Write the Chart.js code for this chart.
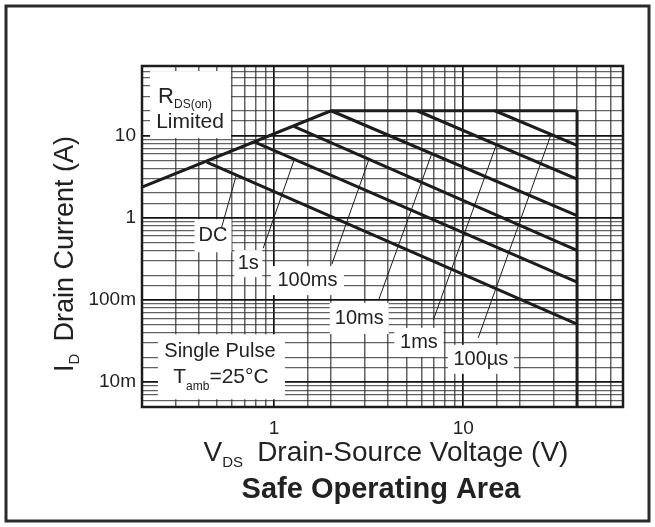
<!DOCTYPE html>
<html>
<head>
<meta charset="utf-8">
<script src="https://cdn.jsdelivr.net/npm/chart.js@4.4.1/dist/chart.umd.min.js"></script>
<style>
  html, body { margin: 0; padding: 0; background: #fff; }
  #wrap { width: 655px; height: 527px; position: relative; }
</style>
</head>
<body>
<div id="wrap"><canvas id="soaChart"></canvas></div>
<script>
// axis ranges
const voltRange = [0.2, 70];
const currentRange = [0.005, 70];

// labelled ticks
const voltTickValues = [1, 10];
const voltTickLabels = ['1', '10'];
const currentTickValues = [10, 1, 0.1, 0.01];
const currentTickLabels = ['10', '1', '100m', '10m'];

// outline of the safe operating area
const rdsLimitV = [0.2, 2.0];
const rdsLimitI = [2.35, 20];
const currentCapV = [2.0, 40];
const currentCapI = [20, 20];
const voltCapV = [40, 40];
const voltCapI = [20, 0.005];

// pulse limit lines, from the outline down to 40 V
const pulseNames = ['100µs', '1ms', '10ms', '100ms', '1s', 'DC'];
const pulseStartV = [14.7, 5.7, 2.0, 1.27, 0.79, 0.44];
const pulseStartI = [20, 20, 20, 12.9, 8.3, 4.75];
const pulseEndV = [40, 40, 40, 40, 40, 40];
const pulseEndI = [7.6, 2.95, 1.06, 0.40, 0.165, 0.051];

// where the pulse names sit, and their leader lines (V, A)
const labelV = [12.4, 5.83, 2.82, 1.5, 0.73, 0.475];
const labelI = [0.019, 0.0305, 0.0597, 0.172, 0.277, 0.605];
const leaderFromV = [12.0, 6.95, 3.57, 2.02, 0.875, 0.526];
const leaderFromI = [0.0346, 0.0573, 0.1, 0.273, 0.427, 0.746];
const leaderToV = [29.0, 14.9, 6.78, 3.16, 1.274, 0.631];
const leaderToI = [10.0, 7.5, 5.8, 5.0, 5.0, 3.3];

// note boxes (V, A of box centre)
const rdsNote = [0.359, 24.1];
const pulseNote = [0.523, 0.01563];

// white box size round each pulse name, px
const labelBox = [[66, 29], [49, 29], [59, 31], [73, 29], [28, 27], [37, 33]];

const FONT = '"Liberation Sans", Arial, Helvetica, sans-serif';
const INK = '#1c1c1c';

function pts(xs, ys) {
    return xs.map((x, i) => ({ x: x, y: ys[i] }));
}

function isDecade(v) {
    const l = Math.log10(v);
    return Math.abs(l - Math.round(l)) < 1e-6;
}

function rich(ctx, parts, x, y) {
    // parts: [text, size, dy, bold, gapAfter]
    let total = 0;
    parts.forEach(p => {
        ctx.font = (p[3] ? 'bold ' : '') + p[1] + 'px ' + FONT;
        p.w = ctx.measureText(p[0]).width + (p[4] || 0);
        total += p.w;
    });
    let cx = x - total / 2;
    ctx.textAlign = 'left';
    ctx.textBaseline = 'middle';
    parts.forEach(p => {
        ctx.font = (p[3] ? 'bold ' : '') + p[1] + 'px ' + FONT;
        ctx.fillText(p[0], cx, y + (p[2] || 0));
        cx += p.w;
    });
}

const notesPlugin = {
    id: 'notes',
    beforeDatasetsDraw(chart) {
        const ctx = chart.ctx, xs = chart.scales.x, ys = chart.scales.y, a = chart.chartArea;
        ctx.save();
        ctx.beginPath();
        ctx.rect(a.left, a.top, a.right - a.left, a.bottom - a.top);
        ctx.clip();
        ctx.fillStyle = '#fff';

        // RDS(on) note
        const rx = xs.getPixelForValue(rdsNote[0]), ry = ys.getPixelForValue(rdsNote[1]);
        ctx.fillRect(rx - 40, ry - 33, 81, 67);
        // single pulse note
        const sx = xs.getPixelForValue(pulseNote[0]), sy = ys.getPixelForValue(pulseNote[1]);
        ctx.fillRect(sx - 63, sy - 32, 127, 65);
        // pulse name boxes
        pulseNames.forEach((n, i) => {
            const px = xs.getPixelForValue(labelV[i]), py = ys.getPixelForValue(labelI[i]);
            const b = labelBox[i];
            ctx.fillRect(px - b[0] / 2, py - b[1] / 2, b[0], b[1]);
        });

        // leaders
        ctx.strokeStyle = INK;
        ctx.lineWidth = 1;
        pulseNames.forEach((n, i) => {
            ctx.beginPath();
            ctx.moveTo(xs.getPixelForValue(leaderFromV[i]), ys.getPixelForValue(leaderFromI[i]));
            ctx.lineTo(xs.getPixelForValue(leaderToV[i]), ys.getPixelForValue(leaderToI[i]));
            ctx.stroke();
        });

        // texts
        ctx.fillStyle = '#222';
        pulseNames.forEach((n, i) => {
            rich(ctx, [[n, 20]], xs.getPixelForValue(labelV[i]), ys.getPixelForValue(labelI[i]));
        });
        rich(ctx, [['R', 22], ['DS(on)', 12, 8]], rx - 5, ry - 7);
        rich(ctx, [['Limited', 21]], rx, ry + 18);
        rich(ctx, [['Single Pulse', 20]], sx - 1, sy - 15);
        rich(ctx, [['T', 21], ['amb', 12, 9], ['=25°C', 21]], sx, sy + 11);
        ctx.restore();
    },
    afterDraw(chart) {
        const ctx = chart.ctx, a = chart.chartArea;
        ctx.save();
        // plot frame
        ctx.strokeStyle = INK;
        ctx.lineWidth = 2.5;
        ctx.strokeRect(a.left, a.top, a.right - a.left, a.bottom - a.top);
        // outer frame
        ctx.strokeStyle = '#2a2a2a';
        ctx.lineWidth = 3;
        ctx.strokeRect(6, 6, 643, 515);

        ctx.fillStyle = '#222';
        rich(ctx, [['V', 28], ['DS', 15, 10, false, 14], ['Drain-Source Voltage (V)', 28]], 386, 453);
        rich(ctx, [['Safe Operating Area', 29, 0, true]], 381, 490);

        ctx.translate(66, 254);
        ctx.rotate(-Math.PI / 2);
        rich(ctx, [['I', 27], ['D', 15, 9, false, 12], ['Drain Current (A)', 27]], 0, 0);
        ctx.restore();
    }
};

const datasets = [
    { data: pts(rdsLimitV, rdsLimitI) },
    { data: pts(currentCapV, currentCapI) },
    { data: pts(voltCapV, voltCapI) }
];
pulseNames.forEach((n, i) => {
    datasets.push({ label: n, data: pts([pulseStartV[i], pulseEndV[i]], [pulseStartI[i], pulseEndI[i]]) });
});
datasets.forEach(d => {
    d.showLine = true;
    d.borderColor = INK;
    d.borderWidth = 3;
    d.pointRadius = 0;
    d.fill = false;
});

function gridColor(c) {
    return isDecade(c.tick.value) ? '#111' : 'rgba(45,45,45,0.75)';
}

const ctx = document.getElementById('soaChart').getContext('2d');
const soaChart = new Chart(ctx, {
    type: 'scatter',
    data: { datasets: datasets },
    plugins: [notesPlugin],
    options: {
        responsive: true,
        maintainAspectRatio: false,
        animation: false,
        layout: { padding: { top: 66, right: 32, left: 0, bottom: 0 } },
        plugins: { legend: { display: false }, tooltip: { enabled: false } },
        scales: {
            x: {
                type: 'logarithmic',
                min: voltRange[0],
                max: voltRange[1],
                afterFit: s => { s.height = 120; },
                border: { display: false },
                grid: { color: gridColor, lineWidth: c => isDecade(c.tick.value) ? 1.7 : 1.5, drawTicks: false },
                ticks: {
                    autoSkip: false,
                    maxRotation: 0,
                    padding: 10,
                    color: '#222',
                    font: { family: FONT, size: 19 },
                    callback: v => {
                        const i = voltTickValues.findIndex(t => Math.abs(t - v) / t < 1e-6);
                        return i >= 0 ? voltTickLabels[i] : '';
                    }
                }
            },
            y: {
                type: 'logarithmic',
                min: currentRange[0],
                max: currentRange[1],
                afterFit: s => { s.width = 142; },
                border: { display: false },
                grid: { color: gridColor, lineWidth: c => isDecade(c.tick.value) ? 1.7 : 1.3, drawTicks: false },
                ticks: {
                    autoSkip: false,
                    padding: 6,
                    color: '#222',
                    font: { family: FONT, size: 19 },
                    callback: v => {
                        const i = currentTickValues.findIndex(t => Math.abs(t - v) / t < 1e-6);
                        return i >= 0 ? currentTickLabels[i] : '';
                    }
                }
            }
        }
    }
});
</script>
</body>
</html>
